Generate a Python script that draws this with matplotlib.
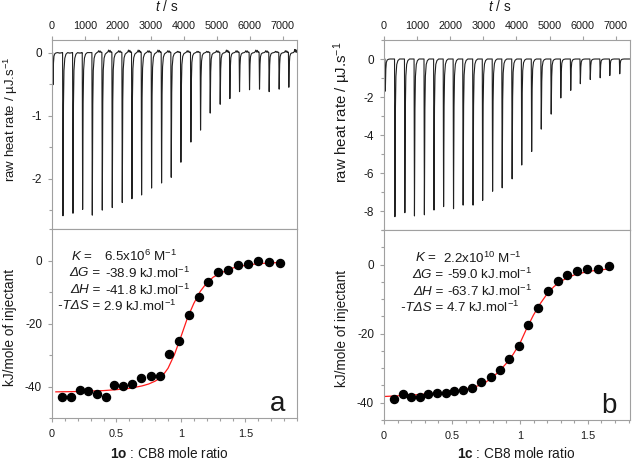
import numpy as np
import matplotlib
matplotlib.use("Agg")
import matplotlib.pyplot as plt
from matplotlib.ticker import MultipleLocator

plt.rcParams.update({
    'font.family': ['Liberation Sans', 'DejaVu Sans'],
    'mathtext.fontset': 'custom',
    'mathtext.rm': 'Liberation Sans',
    'mathtext.it': 'Liberation Sans:italic',
    'mathtext.bf': 'Liberation Sans:bold',
    'axes.unicode_minus': False,
})

# ---------------- data ----------------
# raw thermogram, panel a: time of each spike minimum (s) and its depth (uJ/s)
t_spike_a = [30, 333, 636, 929, 1222, 1525, 1828, 2131, 2424, 2717, 3020, 3323, 3616,
             3909, 4212, 4505, 4798, 5101, 5394, 5687, 5990, 6293, 6586, 6889, 7182]
peak_a = [-0.51, -2.59, -2.55, -2.49, -2.58, -2.50, -2.46, -2.38, -2.32, -2.26, -2.15,
          -2.07, -1.98, -1.74, -1.42, -1.23, -0.96, -0.82, -0.73, -0.62, -0.59, -0.58,
          -0.62, -0.58, -0.55]
# small baseline wiggles after each spike (uJ/s)
wiggle_a = [-0.01, -0.01, -0.01, 0.0, 0.03, 0.04, 0.03, 0.04, 0.04, 0.03, 0.04, 0.03,
            0.02, 0.03, 0.02, 0.02, 0.03, 0.04, 0.03, 0.03, 0.04, 0.03, 0.02, 0.03, 0.05]

# raw thermogram, panel b
t_spike_b = [40, 330, 630, 920, 1220, 1510, 1800, 2100, 2390, 2690, 2980, 3280, 3570,
             3870, 4160, 4460, 4750, 5050, 5340, 5640, 5930, 6230, 6530, 6820, 7120]
peak_b = [-1.69, -8.30, -8.09, -8.26, -8.20, -7.95, -7.77, -7.88, -7.69, -7.69, -7.44,
          -6.96, -6.78, -6.31, -5.58, -4.87, -3.69, -2.90, -2.05, -1.65, -1.30, -1.08,
          -0.99, -0.87, -0.78]

# integrated heats, panel a (1o : CB8)
ratio_a = [0.077, 0.150, 0.214, 0.281, 0.348, 0.415, 0.482, 0.552, 0.621, 0.693, 0.765,
           0.838, 0.910, 0.982, 1.059, 1.137, 1.211, 1.289, 1.366, 1.446, 1.523, 1.600,
           1.683, 1.765]
heat_a = [-43.2, -43.2, -41.2, -41.3, -42.3, -43.3, -39.4, -39.7, -39.1, -37.2, -36.7,
          -36.7, -29.7, -25.5, -17.2, -11.5, -6.9, -3.6, -2.9, -1.3, -1.2, -0.2, -0.4, -0.7]
fit_x_a = [0.03, 0.2, 0.4, 0.5, 0.6, 0.7, 0.75, 0.8, 0.85, 0.9, 0.95, 1.0, 1.05, 1.1,
           1.15, 1.2, 1.25, 1.3, 1.4, 1.5, 1.6, 1.77]
fit_y_a = [-41.7, -41.6, -41.3, -41.0, -40.6, -39.8, -39.2, -38.3, -37.0, -34.2, -29.8,
           -24.2, -18.3, -13.6, -9.8, -7.1, -5.3, -4.1, -2.4, -1.5, -1.0, -0.6]

# integrated heats, panel b (1c : CB8)
ratio_b = [0.076, 0.140, 0.200, 0.262, 0.326, 0.390, 0.453, 0.517, 0.583, 0.650, 0.716,
           0.784, 0.853, 0.922, 0.993, 1.061, 1.135, 1.206, 1.277, 1.350, 1.420, 1.495,
           1.571, 1.654]
heat_b = [-38.8, -37.5, -38.4, -38.3, -37.6, -37.2, -37.2, -36.7, -36.4, -35.8, -34.0,
          -32.6, -30.4, -27.3, -23.6, -17.4, -12.6, -7.6, -4.8, -3.1, -1.9, -1.2, -1.4, -0.4]
fit_x_b = [0.0, 0.1, 0.2, 0.3, 0.4, 0.5, 0.6, 0.65, 0.7, 0.75, 0.8, 0.85, 0.9, 0.95, 1.0,
           1.05, 1.1, 1.15, 1.2, 1.25, 1.3, 1.35, 1.4, 1.5, 1.6, 1.65]
fit_y_b = [-38.2, -38.0, -37.8, -37.5, -37.2, -36.8, -36.1, -35.6, -35.0, -34.0, -32.6,
           -30.8, -28.6, -26.0, -22.8, -18.5, -14.6, -11.3, -8.5, -6.4, -4.9, -3.8, -3.0,
           -2.0, -1.5, -1.3]

stat_names = [r"$\it{K}$ =", "\u0394G =", "\u0394H =", "-T\u0394S ="]
stat_vals_a = [r"6.5x10$^{6}$ M$^{-1}$", r"-38.9 kJ.mol$^{-1}$",
               r"-41.8 kJ.mol$^{-1}$", r"2.9 kJ.mol$^{-1}$"]
stat_vals_b = [r"2.2x10$^{10}$ M$^{-1}$", r"-59.0 kJ.mol$^{-1}$",
               r"-63.7 kJ.mol$^{-1}$", r"4.7 kJ.mol$^{-1}$"]

# shape of one injection peak (time offset s, fraction of depth)
SPIKE_DT = [-12, 0, 6, 15, 30, 55, 90, 140]
SPIKE_FR = [0.0, 1.0, 0.72, 0.32, 0.11, 0.035, 0.01, 0.0]

GREY = '#a0a0a0'
TXT = '#1a1a1a'


def build_trace(times, peaks, wiggles=None, tend=7450):
    ts, ys = [0.0], [0.0]
    for i, (t0, p) in enumerate(zip(times, peaks)):
        ts += [t0 + d for d in SPIKE_DT]
        ys += [p * f for f in SPIKE_FR]
        nxt = times[i + 1] if i + 1 < len(times) else tend
        if wiggles is not None:
            w = wiggles[i]
            seg = t0 + SPIKE_DT[-1]
            span = nxt - 14 - seg
            ts += [seg + span * f for f in (0.2, 0.35, 0.5, 0.65, 0.8, 0.95)]
            ys += [w * 0.3, w, w * 0.2, w * 0.9, w * 0.1, w * 0.3]
    ts.append(tend)
    ys.append(wiggles[-1] if wiggles is not None else 0.0)
    return np.array(ts), np.array(ys)


fig = plt.figure(figsize=(6.32, 4.63), dpi=100)
W, H = 632, 463


def add_ax(x0, y0, x1, y1):
    return fig.add_axes([x0 / W, 1 - y1 / H, (x1 - x0) / W, (y1 - y0) / H])


def style(ax):
    for s in ax.spines.values():
        s.set_color(GREY)
        s.set_linewidth(0.8)
    ax.tick_params(which='both', direction='out', colors=GREY, labelcolor=TXT,
                   labelsize=7.8, width=0.8)
    ax.tick_params(axis='y', labelsize=8.5)
    ax.tick_params(which='major', length=3.2)
    ax.tick_params(which='minor', length=2.2)


axa_t = add_ax(52, 40, 297, 229)
axa_b = add_ax(52, 229, 297, 418)
axb_t = add_ax(384, 40, 630, 230)
axb_b = add_ax(384, 230, 630, 420)

for ax_t, times, peaks, wig, ylim, ymaj, ymin, ylab_x, ylab_y, ylab_fs in (
        (axa_t, t_spike_a, peak_a, wiggle_a, (-2.8, 0.2), 1, 0.5, -0.167, 0.58, 9.5),
        (axb_t, t_spike_b, peak_b, None, (-9, 1), 2, 1, -0.171, 0.62, 10.8)):
    tt, yy = build_trace(times, peaks, wig)
    ax_t.plot(tt, yy, color='#202020', lw=0.8)
    ax_t.set_xlim(0, 7430)
    ax_t.set_ylim(*ylim)
    style(ax_t)
    ax_t.xaxis.tick_top()
    ax_t.xaxis.set_major_locator(MultipleLocator(1000))
    ax_t.yaxis.set_major_locator(MultipleLocator(ymaj))
    ax_t.yaxis.set_minor_locator(MultipleLocator(ymin))
    ax_t.tick_params(axis='x', pad=3.0)
    ax_t.tick_params(axis='y', pad=4.0)
    ax_t.text(0.47, 1.175, r"$\it{t}$ / s", transform=ax_t.transAxes,
              ha='center', va='center', fontsize=9.8, color=TXT)
    ax_t.text(ylab_x, ylab_y, "raw heat rate / \u00b5J.s$^{-1}$", transform=ax_t.transAxes,
              ha='center', va='center', rotation=90, fontsize=ylab_fs, color=TXT)

for (ax_b, rx, hy, fx, fy, xlim, ylim, ymin, name_pos, val_pos, vals, letter, lx,
     xlabel, xl_x, xl_y, ylab_x, ylab_y) in (
        (axa_b, ratio_a, heat_a, fit_x_a, fit_y_a, (0, 1.9), (-50, 10), 10,
         [0.167, 0.196, 0.196, 0.196], [0.214, 0.218, 0.218, 0.207], stat_vals_a, 'a', 0.951,
         r"$\mathbf{1o}$ : CB8 mole ratio", 0.478, -0.186, -0.172, 0.48),
        (axb_b, ratio_b, heat_b, fit_x_b, fit_y_b, (0, 1.81), (-45, 10), 5,
         [0.215, 0.24, 0.24, 0.24], [0.238, 0.258, 0.258, 0.252], stat_vals_b, 'b', 0.947,
         r"$\mathbf{1c}$ : CB8 mole ratio", 0.535, -0.175, -0.171, 0.484)):
    ax_b.plot(fx, fy, color='#ff1a1a', lw=0.9, zorder=2)
    ax_b.plot(rx, hy, 'o', color='black', ms=5.8, zorder=3)
    ax_b.set_xlim(*xlim)
    ax_b.set_ylim(*ylim)
    style(ax_b)
    ax_b.xaxis.set_minor_locator(MultipleLocator(0.1))
    ax_b.set_xticks([0, 0.5, 1, 1.5])
    ax_b.set_xticklabels(['0', '0.5', '1', '1.5'])
    ax_b.yaxis.set_major_locator(MultipleLocator(20))
    ax_b.yaxis.set_minor_locator(MultipleLocator(ymin))
    ax_b.tick_params(axis='x', pad=4.5)
    ax_b.tick_params(axis='y', pad=4.0)
    ys = [0.853, 0.765, 0.676, 0.592]
    for i, (nm, vl) in enumerate(zip(stat_names, vals)):
        ax_b.text(name_pos[i], ys[i], nm, transform=ax_b.transAxes, ha='right',
                  va='center', fontsize=9.6, style='italic' if i else 'normal', color=TXT)
        ax_b.text(val_pos[i], ys[i], vl, transform=ax_b.transAxes,
                  ha='left', va='center', fontsize=9.6, color=TXT)
    ax_b.text(lx, 0.038, letter, transform=ax_b.transAxes, ha='right', va='baseline',
              fontsize=20, color=TXT)
    ax_b.text(xl_x, xl_y, xlabel, transform=ax_b.transAxes, ha='center', va='center',
              fontsize=9.8, color=TXT)
    ax_b.text(ylab_x, ylab_y, "kJ/mole of injectant", transform=ax_b.transAxes,
              ha='center', va='center', rotation=90, fontsize=9.8, color=TXT)

fig.savefig('out.png', dpi=100)
